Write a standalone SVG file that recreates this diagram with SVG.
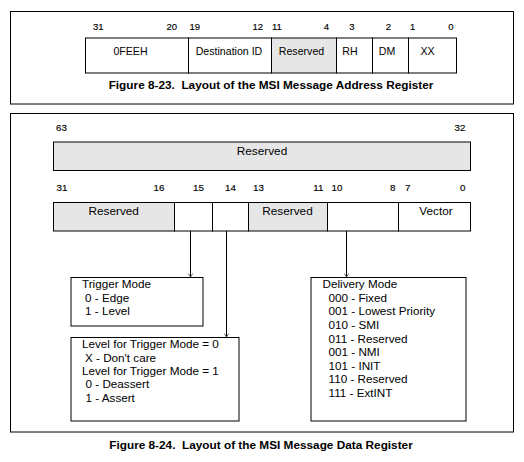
<svg xmlns="http://www.w3.org/2000/svg" width="524" height="462" viewBox="0 0 524 462">
<defs>
<style>
text{font-family:"Liberation Sans",Arial,sans-serif;fill:#000}
.bn{font-size:9.5px;stroke:#000;stroke-width:0.15}
.bn2{font-size:9.8px;stroke:#000;stroke-width:0.15}
.al{font-size:10.6px;text-anchor:middle}
.dl{font-size:11.8px;text-anchor:middle}
.bx{font-size:11.7px}
.cap{font-size:11.8px;font-weight:bold;text-anchor:middle;white-space:pre}
.frame{fill:none;stroke:#000;stroke-width:1}
.box{fill:#fff;stroke:#000;stroke-width:1}
.sh{fill:#e6e6e6;stroke:#000;stroke-width:1}
.ln{stroke:#000;stroke-width:1;fill:none}
</style>
<marker id="ah" markerUnits="userSpaceOnUse" markerWidth="8" markerHeight="8" refX="0" refY="0" viewBox="-5 -4 6 8" orient="auto">
<path d="M-3.5,-2.3 L0,0 L-3.5,2.3" fill="none" stroke="#444" stroke-width="0.8"/>
</marker>
</defs>
<rect width="524" height="462" fill="#fff"/>

<g id="fig823">
<rect class="frame" x="10.5" y="11.5" width="503" height="92.5"/>
<text class="bn" x="93" y="29.5">31</text>
<text class="bn" x="177" y="29.5" text-anchor="end">20</text>
<text class="bn" x="189.5" y="29.5">19</text>
<text class="bn" x="263" y="29.5" text-anchor="end">12</text>
<text class="bn" x="272" y="29.5">11</text>
<text class="bn" x="329" y="29.5" text-anchor="end">4</text>
<text class="bn" x="352" y="29.5" text-anchor="middle">3</text>
<text class="bn" x="391" y="29.5" text-anchor="end">2</text>
<text class="bn" x="410" y="29.5">1</text>
<text class="bn" x="453.5" y="29.5" text-anchor="end">0</text>
<g id="addr-0FEEH"><rect class="box" x="85.5" y="38" width="103" height="35"/><text class="al" x="130.5" y="54.5">0FEEH</text></g>
<g id="addr-destid"><rect class="box" x="188.5" y="38" width="83" height="35"/><text class="al" x="229" y="54.5">Destination ID</text></g>
<g id="addr-reserved"><rect class="sh" x="271.5" y="38" width="65" height="35"/><text class="al" x="301.5" y="54.5">Reserved</text></g>
<g id="addr-RH"><rect class="box" x="336.5" y="38" width="36" height="35"/><text class="al" x="350" y="54.5">RH</text></g>
<g id="addr-DM"><rect class="box" x="372.5" y="38" width="36" height="35"/><text class="al" x="387" y="54.5">DM</text></g>
<g id="addr-XX"><rect class="box" x="408.5" y="38" width="48" height="35"/><text class="al" x="427.5" y="54.5">XX</text></g>
<text class="cap" x="271" y="89" xml:space="preserve">Figure 8-23.  Layout of the MSI Message Address Register</text>
</g>

<g id="fig824">
<rect class="frame" x="10.5" y="113.5" width="503" height="318.5"/>
<text class="bn2" x="56" y="130.5">63</text>
<text class="bn2" x="465.5" y="130.5" text-anchor="end">32</text>
<g id="data-reserved-high"><rect class="sh" x="53.5" y="142" width="417" height="28.5"/><text class="dl" x="262" y="154.5">Reserved</text></g>
<text class="bn2" x="56.5" y="191">31</text>
<text class="bn2" x="164.5" y="191" text-anchor="end">16</text>
<text class="bn2" x="193" y="191">15</text>
<text class="bn2" x="225" y="191">14</text>
<text class="bn2" x="253" y="191">13</text>
<text class="bn2" x="323.5" y="191" text-anchor="end">11</text>
<text class="bn2" x="331.5" y="191">10</text>
<text class="bn2" x="395.5" y="191" text-anchor="end">8</text>
<text class="bn2" x="405" y="191">7</text>
<text class="bn2" x="465.5" y="191" text-anchor="end">0</text>
<g id="data-reserved-31-16"><rect class="sh" x="53.5" y="202.5" width="121" height="28.5"/><text class="dl" x="113.7" y="215">Reserved</text></g>
<g id="data-bit15"><rect class="box" x="174.5" y="202.5" width="38" height="28.5"/></g>
<g id="data-bit14"><rect class="box" x="212.5" y="202.5" width="36" height="28.5"/></g>
<g id="data-reserved-13-11"><rect class="sh" x="248.5" y="202.5" width="79" height="28.5"/><text class="dl" x="287.5" y="215">Reserved</text></g>
<g id="data-bits10-8"><rect class="box" x="327.5" y="202.5" width="71" height="28.5"/></g>
<g id="data-vector"><rect class="box" x="398.5" y="202.5" width="72" height="28.5"/><text class="dl" x="436" y="215">Vector</text></g>

<g id="connectors">
<line class="ln" x1="190.5" y1="231" x2="190.5" y2="277" marker-end="url(#ah)"/>
<line class="ln" x1="226.5" y1="231" x2="226.5" y2="337" marker-end="url(#ah)"/>
<line class="ln" x1="346.5" y1="231" x2="346.5" y2="277" marker-end="url(#ah)"/>
</g>

<g id="trigger-mode">
<rect class="box" x="71" y="277.5" width="132" height="48.5"/>
<text class="bx" x="82" y="288.3">Trigger Mode</text>
<text class="bx" x="85" y="301.8">0 - Edge</text>
<text class="bx" x="85" y="315.3">1 - Level</text>
</g>

<g id="level">
<rect class="box" x="71" y="337.5" width="168" height="83.5"/>
<text class="bx" x="82" y="348.3">Level for Trigger Mode = 0</text>
<text class="bx" x="85" y="361.6">X - Don't care</text>
<text class="bx" x="82" y="375">Level for Trigger Mode = 1</text>
<text class="bx" x="85.5" y="388.3">0 - Deassert</text>
<text class="bx" x="85.5" y="401.7">1 - Assert</text>
</g>

<g id="delivery-mode">
<rect class="box" x="311" y="277.5" width="155" height="143.5"/>
<text class="bx" x="322.5" y="288.3">Delivery Mode</text>
<text class="bx" x="328.5" y="301.9">000 - Fixed</text>
<text class="bx" x="328.5" y="315.4">001 - Lowest Priority</text>
<text class="bx" x="328.5" y="329">010 - SMI</text>
<text class="bx" x="328.5" y="342.5">011 - Reserved</text>
<text class="bx" x="328.5" y="356.1">001 - NMI</text>
<text class="bx" x="328.5" y="369.6">101 - INIT</text>
<text class="bx" x="328.5" y="383.2">110 - Reserved</text>
<text class="bx" x="328.5" y="396.7">111 - ExtINT</text>
</g>
</g>

<text class="cap" x="261" y="448.5" xml:space="preserve">Figure 8-24.  Layout of the MSI Message Data Register</text>
</svg>
